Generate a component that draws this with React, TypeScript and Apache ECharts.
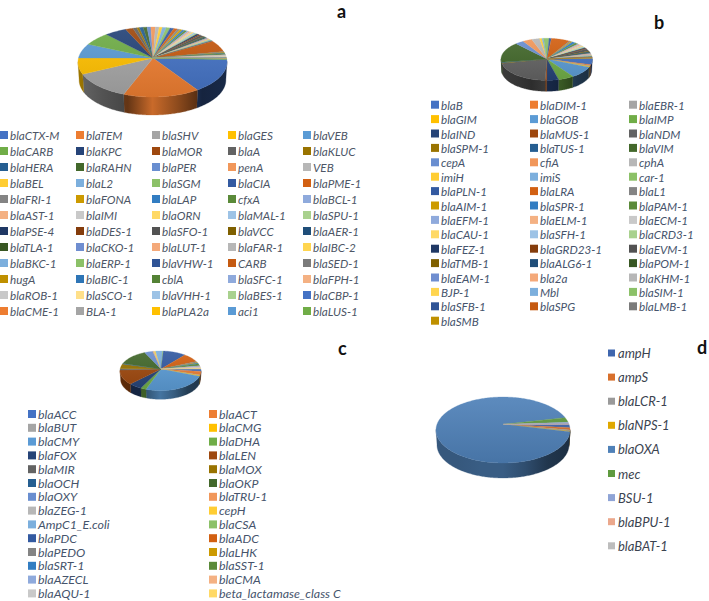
import React, { useEffect, useRef } from "react";
import * as echarts from "echarts";

const namesA = ["blaCTX-M","blaTEM","blaSHV","blaGES","blaVEB","blaCARB","blaKPC","blaMOR","blaA","blaKLUC","blaHERA","blaRAHN","blaPER","penA","VEB","blaBEL","blaL2","blaSGM","blaCIA","blaPME-1","blaFRI-1","blaFONA","blaLAP","cfxA","blaBCL-1","blaAST-1","blaIMI","blaORN","blaMAL-1","blaSPU-1","blaPSE-4","blaDES-1","blaSFO-1","blaVCC","blaAER-1","blaTLA-1","blaCKO-1","blaLUT-1","blaFAR-1","blaIBC-2","blaBKC-1","blaERP-1","blaVHW-1","CARB","blaSED-1","hugA","blaBIC-1","cblA","blaSFC-1","blaFPH-1","blaROB-1","blaSCO-1","blaVHH-1","blaBES-1","blaCBP-1","blaCME-1","BLA-1","blaPLA2a","aci1","blaLUS-1"];
const valuesA = [57,60,47,27,24,21.5,17,6,3,2,3,3,3,3.5,3,2.5,3,3,3,3,2,2,2,2,1.5,1.5,1.5,1.5,1.5,1.5,2,1.5,3,1,1,1.5,1,1,1,1,1,1,1,19,1.5,1,1,2,0.5,0.5,2.5,0.5,0.5,0.5,0.5,0.5,0.5,0.5,0.5,0.5];

const namesB = ["blaB","blaDIM-1","blaEBR-1","blaGIM","blaGOB","blaIMP","blaIND","blaMUS-1","blaNDM","blaSPM-1","blaTUS-1","blaVIM","cepA","cfiA","cphA","imiH","imiS","car-1","blaPLN-1","blaLRA","blaL1","blaAIM-1","blaSPR-1","blaPAM-1","blaEFM-1","blaELM-1","blaECM-1","blaCAU-1","blaSFH-1","blaCRD3-1","blaFEZ-1","blaGRD23-1","blaEVM-1","blaTMB-1","blaALG6-1","blaPOM-1","blaEAM-1","bla2a","blaKHM-1","BJP-1","Mbl","blaSIM-1","blaSFB-1","blaSPG","blaLMB-1","blaSMB"];
const valuesB = [18,3,2,2,33,20,15,2,77,1.5,1.5,56,11,12,10,3,2,7,3,24,2,2,5,4,2,3,3,2,2,2,2,2,6,2,2,2,2,1,4,1,1,1,1,1,1,1];

const namesC = ["blaACC","blaACT","blaBUT","blaCMG","blaCMY","blaDHA","blaFOX","blaLEN","blaMIR","blaMOX","blaOCH","blaOKP","blaOXY","blaTRU-1","blaZEG-1","cepH","AmpC1_E.coli","blaCSA","blaPDC","blaADC","blaPEDO","blaLHK","blaSRT-1","blaSST-1","blaAZECL","blaCMA","blaAQU-1","beta_lactamase_class C"];
const valuesC = [7,10,2,2,95,8,19,44,4,14,2,45,12,1,1,2,10,1,33,25,3,2,2,6,3,2,3,2];

const namesD = ["ampH","ampS","blaLCR-1","blaNPS-1","blaOXA","mec","BSU-1","blaBPU-1","blaBAT-1"];
const valuesD = [6,4,2,1,335,8.5,3,0.3,0.2];

const palette = [
  "#4472C4","#ED7D31","#A5A5A5","#FFC000","#5B9BD5","#70AD47",
  "#264478","#9E480E","#636363","#997300","#255E91","#43682B",
  "#698ED0","#F1975A","#B7B7B7","#FFCD33","#7CAFDD","#8CC168",
  "#335AA1","#D26012","#848484","#CC9A00","#327DC2","#5A8A39",
  "#8FAADC","#F4B183","#C9C9C9","#FFD966","#9DC3E6","#A9D18E",
  "#1F3864","#843C0C","#525252","#7F6000","#1F4E79","#385723",
  "#6F8ED0","#F4A97A","#B7B7B7","#FFD54F","#7CAFDD","#8CC168",
  "#2F5496","#C55A11","#7B7B7B","#BF9000","#2E75B6","#548235",
  "#8FAADC","#F4B183","#C9C9C9","#FFE08A","#9DC3E6","#A9D18E",
];
const colorsD = ["#3F66AE","#D8702C","#9A9A9A","#E0A800","#4F81B8","#5F9A3F","#8FA4D6","#EBA88C","#BDBDBD"];

function shade(hex: string, k: number) {
  const n = parseInt(hex.slice(1), 16);
  const f = (c: number) => Math.round(k <= 1 ? c * k : c + (255 - c) * (k - 1));
  return `rgb(${f((n >> 16) & 255)},${f((n >> 8) & 255)},${f(n & 255)})`;
}

type Panel = {
  names: string[]; values: number[]; colors: string[]; start: number;
  ax: number; ay: number; cx: number; cy: number; rx: number; ry: number; h: number;
  wall: number[];
};

const panels: Panel[] = [
  { names: namesA, values: valuesA, colors: namesA.map((_, i) => palette[i % 54]), start: 86, ax: 153, ay: 58, cx: 152.5, cy: 62, rx: 74.5, ry: 35, h: 18, wall: [0.62, 0.5, 0.42, 0.85, 0.6, 0.32, 0.36] },
  { names: namesB, values: valuesB, colors: namesB.map((_, i) => palette[i % 54]), start: 87, ax: 547, ay: 59, cx: 546.7, cy: 59.3, rx: 45.7, ry: 21, h: 11, wall: [0.6, 0.55, 0.45, 0.6, 0.5, 0.35, 0.3] },
  { names: namesC, values: valuesC, colors: namesC.map((_, i) => palette[i % 54]), start: 85, ax: 161, ay: 369, cx: 160.5, cy: 370.8, rx: 40.5, ry: 19.8, h: 8.7, wall: [0.6, 0.55, 0.55, 0.75, 0.6, 0.4, 0.35] },
  { names: namesD, values: valuesD, colors: colorsD, start: 80, ax: 503.3, ay: 424.3, cx: 503, cy: 430, rx: 67, ry: 33, h: 15, wall: [0.68, 0.68, 0.72, 0.72, 0.6, 0.42, 0.36] },
];

const legendLayouts = [
  { panel: 0, cols: [0, 76, 152, 228, 303], top: 129, step: 16, size: 11.7, w: 8, pad: -3, color: "#4d5666" },
  { panel: 1, cols: [431, 530, 629], top: 98.7, step: 14.4, size: 11.7, w: 8, pad: -3, color: "#46546c" },
  { panel: 2, cols: [28, 209], top: 408, step: 13.8, size: 12.4, w: 8, pad: -3, color: "#46546c" },
  { panel: 3, cols: [608], top: 346.5, step: 23.1, size: 13, w: 7, pad: -2, color: "#3b4350" },
];

const letters = [
  { text: "a", x: 337, y: 2 },
  { text: "b", x: 654, y: 13 },
  { text: "c", x: 338, y: 339 },
  { text: "d", x: 697, y: 338 },
];

function makeRender(p: Panel, index: number) {
  const total = p.values.reduce((s, v) => s + v, 0);
  const before = p.values.slice(0, index).reduce((s, v) => s + v, 0);
  return (_params: any, api: any) => {
    const a0 = p.start + (before / total) * 360;
    const a1 = a0 + (api.value(0) / total) * 360;
    const count = Math.max(2, Math.ceil(a1 - a0) + 1);
    const ts: number[] = [];
    for (let i = 0; i < count; i++) ts.push(a0 + ((a1 - a0) * i) / (count - 1));
    const rim = (t: number, rx = p.rx, dy = 0) => {
      const r = (t * Math.PI) / 180;
      return [p.cx + rx * Math.sin(r), p.cy + dy - p.ry * Math.cos(r)];
    };
    const color = p.colors[index];
    const topFill = new echarts.graphic.LinearGradient(0, p.cy - p.ry, 0, p.cy + p.ry, [
      { offset: 0, color: shade(color, 1.08) },
      { offset: 1, color: shade(color, 0.9) },
    ], true);
    const children: any[] = [
      {
        type: "polygon", z2: 10,
        shape: { points: [[p.ax, p.ay], ...ts.map((t) => rim(t))] },
        style: { fill: topFill, stroke: topFill, lineWidth: 0.3 },
      },
    ];
    const front = ts.filter((t) => Math.cos((t * Math.PI) / 180) <= 0.02);
    if (front.length > 1) {
      const stops = p.wall.map((k, i) => ({ offset: i / (p.wall.length - 1), color: shade(color, k) }));
      const wallFill = new echarts.graphic.LinearGradient(p.cx - p.rx, 0, p.cx + p.rx, 0, stops, true);
      children.push({
        type: "polygon", z2: 1,
        shape: { points: [...front.map((t) => rim(t)), ...front.slice().reverse().map((t) => rim(t, p.rx * 0.985, p.h))] },
        style: { fill: wallFill, stroke: wallFill, lineWidth: 0.3 },
      });
    }
    return { type: "group", children };
  };
}

export default function App() {
  const ref = useRef<HTMLDivElement>(null);
  useEffect(() => {
    const chart = echarts.init(ref.current!, undefined, { renderer: "svg" });
    const series: any[] = [];
    panels.forEach((p) => {
      p.names.forEach((name, i) => {
        series.push({
          type: "custom", name, coordinateSystem: "none", silent: true, clip: false,
          itemStyle: { color: p.colors[i] },
          renderItem: makeRender(p, i),
          data: [[p.values[i]]],
        });
      });
    });
    const legend: any[] = [];
    legendLayouts.forEach((l) => {
      const names = panels[l.panel].names;
      l.cols.forEach((left, c) => {
        legend.push({
          show: true, orient: "vertical", left, top: l.top, padding: 0,
          itemWidth: l.w, itemHeight: l.w, itemGap: l.step - 12,
          icon: "rect", selectedMode: false,
          data: names.filter((_, i) => i % l.cols.length === c),
          textStyle: {
            fontFamily: "Lato", fontStyle: "italic", fontSize: l.size, color: l.color,
            lineHeight: 12, padding: [0, 0, 0, l.pad], height: 12,
          },
        });
      });
    });
    chart.setOption({
      animation: false,
      backgroundColor: "#ffffff",
      tooltip: { show: false },
      legend,
      series,
      graphic: letters.map((t) => ({
        type: "text", left: t.x, top: t.y,
        style: { text: t.text, fontFamily: "Lato", fontWeight: "bold", fontSize: 18, fill: "#111111" },
      })),
    });
    return () => chart.dispose();
  }, []);
  return <div ref={ref} style={{ position: "absolute", left: 0, top: 0, width: 709, height: 601 }} />;
}
